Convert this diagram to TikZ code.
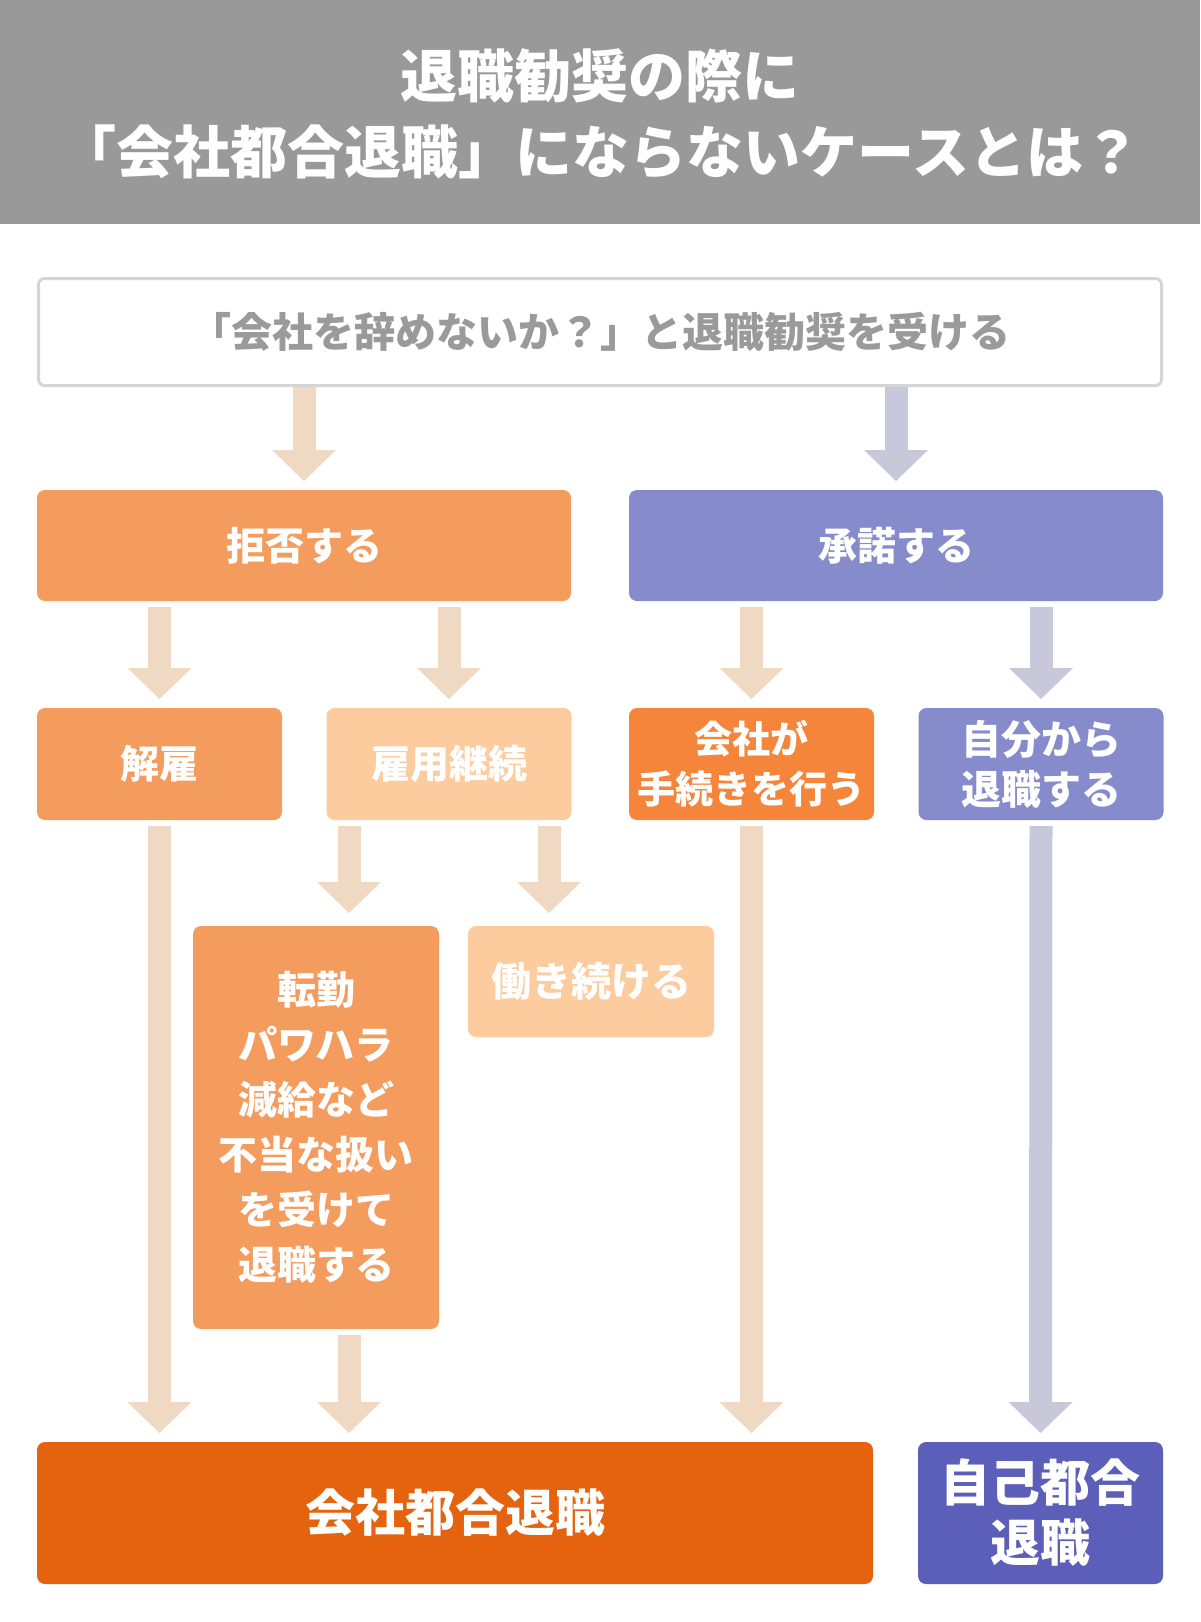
\documentclass[tikz,border=0pt]{standalone}
\usepackage{fontspec}
\setmainfont{Noto Sans CJK JP}
\usepackage{tikz}
\usetikzlibrary{arrows.meta, positioning}
\definecolor{headgray}{HTML}{999999}
\definecolor{framegray}{HTML}{D5D5D5}
\definecolor{textgray}{HTML}{9A9A9A}
\definecolor{orangebox}{HTML}{F39C5E}
\definecolor{paleorange}{HTML}{FCCB9E}
\definecolor{brightorange}{HTML}{F5853A}
\definecolor{darkorange}{HTML}{E5630E}
\definecolor{purplebox}{HTML}{868BCB}
\definecolor{darkpurple}{HTML}{5B5FB9}
\definecolor{peacharr}{HTML}{EFD9C3}
\definecolor{lilacarr}{HTML}{C7C8DA}

\begin{document}
\begin{tikzpicture}[x=1pt, y=-1pt,
  box/.style={rectangle, rounded corners=8pt, inner sep=0pt, outer sep=0pt,
    text=white, align=center, minimum width=245pt, minimum height=112pt},
  wide/.style={box, minimum width=534pt, minimum height=111pt,
    font=\fontsize{39}{48}\selectfont\bfseries},
  small/.style={box, font=\fontsize{39}{50}\selectfont\bfseries},
  arr/.style={line width=23pt, -{Triangle[length=31pt, width=64pt, line width=0pt]},
    shorten <=6pt, shorten >=9pt},
  arrA/.style={arr, draw=peacharr},
  arrB/.style={arr, draw=lilacarr}
]
  \useasboundingbox (0,0) rectangle (1200,1622);
  \fill[headgray] (0,0) rectangle (1200,224);
  \node[text=white, align=center, font=\fontsize{57}{76}\selectfont\bfseries]
    (title) at (600,114) {退職勧奨の際に\\「会社都合退職」にならないケースとは？};

  \node[box, draw=framegray, line width=3pt, fill=white, text=textgray,
    minimum width=1123pt, minimum height=107pt, rounded corners=6pt,
    font=\fontsize{41}{48}\selectfont\bfseries] (offer) at (600,332)
    {「会社を辞めないか？」と退職勧奨を受ける};

  \node[wide, fill=orangebox] (refuse) at (304,545.5) {拒否する};
  \node[wide, fill=purplebox, right=58pt of refuse] (accept) {承諾する};

  \node[small, fill=orangebox] (dismiss) at (159.5,764) {解雇};
  \node[small, fill=paleorange, right=44.5pt of dismiss] (cont) {雇用継続};
  \node[small, fill=brightorange, right=57.5pt of cont,
    font=\fontsize{38}{50}\selectfont\bfseries] (firmdo) {会社が\\手続きを行う};
  \node[small, fill=purplebox, right=44.5pt of firmdo,
    font=\fontsize{40}{50}\selectfont\bfseries] (selfdo) {自分から\\退職する};

  \node[small, fill=orangebox, minimum width=246pt, minimum height=403pt,
    font=\fontsize{39}{55}\selectfont\bfseries] (abuse) at (316,1127.5)
    {転勤\\パワハラ\\減給など\\不当な扱い\\を受けて\\退職する};
  \node[small, fill=paleorange, minimum width=246pt, minimum height=111pt,
    right=29pt of abuse.north east, anchor=north west,
    font=\fontsize{40}{50}\selectfont\bfseries] (keep) {働き続ける};

  \node[box, fill=darkorange, minimum width=836pt, minimum height=142pt,
    font=\fontsize{50}{60}\selectfont\bfseries] (firmres) at (455,1513) {会社都合退職};
  \node[box, fill=darkpurple, minimum height=142pt, right=45pt of firmres,
    font=\fontsize{50}{60}\selectfont\bfseries] (selfres) {自己都合\\退職};

  \path ([xshift=-100pt]cont.south) coordinate (c1)
        ([xshift=100pt]cont.south) coordinate (c2);

  \draw[arrA, shorten <=1pt] (refuse.north |- offer.south) -- (refuse.north);
  \draw[arrB, shorten <=1pt] (accept.north |- offer.south) -- (accept.north);
  \draw[arrA] (dismiss.north |- refuse.south) -- (dismiss.north);
  \draw[arrA] (cont.north |- refuse.south) -- (cont.north);
  \draw[arrA] (firmdo.north |- accept.south) -- (firmdo.north);
  \draw[arrB] (selfdo.north |- accept.south) -- (selfdo.north);
  \draw[arrA, shorten >=13pt] (c1) -- (c1 |- abuse.north);
  \draw[arrA, shorten >=13pt] (c2) -- (c2 |- keep.north);
  \draw[arrA] (dismiss.south) -- (dismiss.south |- firmres.north);
  \draw[arrA] (c1 |- abuse.south) -- (c1 |- firmres.north);
  \draw[arrA] (firmdo.south) -- (firmdo.south |- firmres.north);
  \draw[arrB] (selfdo.south) -- (selfres.north);
\end{tikzpicture}
\end{document}
